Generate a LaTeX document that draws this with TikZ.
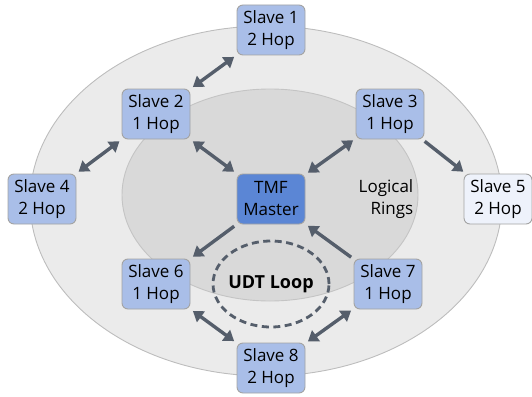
\documentclass[tikz,border=0pt]{standalone}
\usepackage{fontspec}
\setmainfont{Open Sans}
\usetikzlibrary{arrows.meta,shapes.geometric}
\definecolor{outerfill}{HTML}{EBEBEB}
\definecolor{outerdraw}{HTML}{BDBDBD}
\definecolor{innerfill}{HTML}{D9D9D9}
\definecolor{innerdraw}{HTML}{C4C4C4}
\definecolor{boxfill}{HTML}{A9BEE8}
\definecolor{boxdraw}{HTML}{A3A3A3}
\definecolor{masterfill}{HTML}{5B86D5}
\definecolor{palefill}{HTML}{EEF2FB}
\definecolor{arrowcol}{HTML}{555E6B}
\tikzset{
  slavebox/.style={draw=boxdraw, line width=0.9pt, fill=boxfill, rounded corners=6pt,
    minimum width=68pt, minimum height=50pt, inner sep=0pt, align=center,
    font=\fontsize{17}{22}\selectfont},
  link/.style={draw=arrowcol, line width=3.4pt, shorten <=3pt, shorten >=3pt},
  tip/.style={-{Triangle[length=10pt,width=13pt]}},
  both/.style={{Triangle[length=10pt,width=13pt]}-{Triangle[length=10pt,width=13pt]}}
}
\begin{document}
\begin{tikzpicture}[x=1pt,y=-1pt]
\useasboundingbox (0,0) rectangle (532,396);
\draw[fill=outerfill, draw=outerdraw, line width=0.9pt] (266,201) ellipse [x radius=236, y radius=175];
\draw[fill=innerfill, draw=innerdraw, line width=0.9pt] (270,195) ellipse [x radius=148, y radius=106];
\node[draw=arrowcol, dash pattern=on 7pt off 4.5pt, line width=2.8pt, ellipse, minimum width=116pt, minimum height=86pt, inner sep=0pt] (loop) at (271,284) {};
\node[font=\bfseries\fontsize{18}{22}\selectfont] (udt) at (271,284) {UDT Loop};
\node[align=right, font=\fontsize{17}{22}\selectfont] (rings) at (386,199) {Logical\\Rings};

\node[slavebox] (s1) at (271,30) {Slave 1\\2 Hop};
\node[slavebox] (s2) at (156,114) {Slave 2\\1 Hop};
\node[slavebox] (s3) at (390,114) {Slave 3\\1 Hop};
\node[slavebox] (s4) at (42,199) {Slave 4\\2 Hop};
\node[slavebox, fill=palefill] (s5) at (498,199) {Slave 5\\2 Hop};
\node[slavebox, fill=masterfill] (m) at (271,199) {TMF\\Master};
\node[slavebox] (s6) at (156,284) {Slave 6\\1 Hop};
\node[slavebox] (s7) at (388,284) {Slave 7\\1 Hop};
\node[slavebox] (s8) at (271,368) {Slave 8\\2 Hop};

\draw[link, both] (s2) -- (s1);
\draw[link, both] (s4) -- (s2);
\draw[link, both] (s2) -- (m);
\draw[link, both] (s3) -- (m);
\draw[link, tip] (s3) -- (s5);
\draw[link, tip] (m) -- (s6);
\draw[link, tip] (s7) -- (m);
\draw[link, both] (s6) -- (s8);
\draw[link, both] (s7) -- (s8);
\end{tikzpicture}
\end{document}
